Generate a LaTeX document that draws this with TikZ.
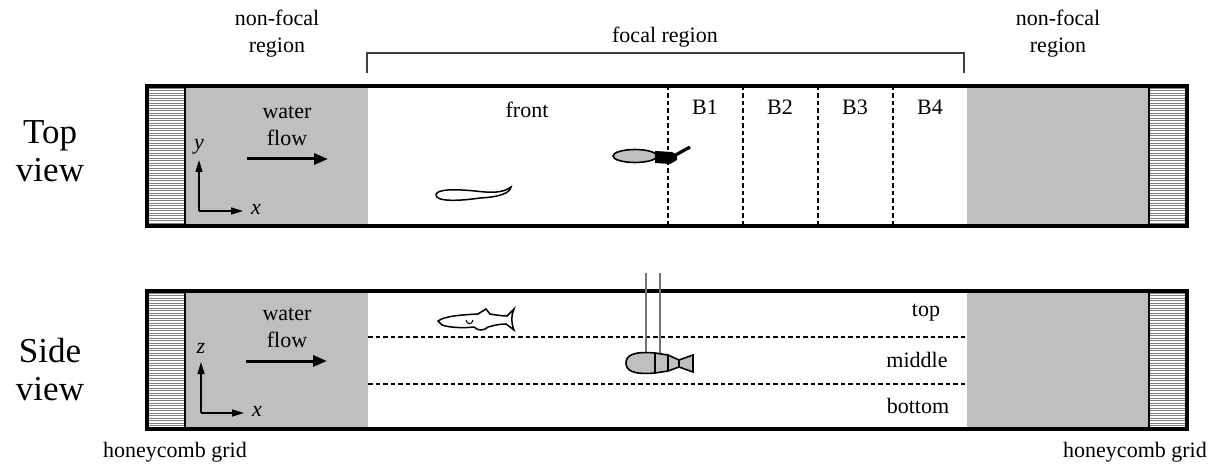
\documentclass[tikz,border=0pt]{standalone}
\usepackage{fontspec}
\setmainfont{Liberation Serif}
\usetikzlibrary{arrows.meta}
\tikzset{
  tank/.style={line width=3.8pt},
  wall/.style={line width=2.8pt},
  zone/.style={fill=black!25, draw=none},
  gridline/.style={black!50, line width=0.7pt},
  divider/.style={line width=1.1pt, dash pattern=on 4.5pt off 3pt},
  flowarrow/.style={line width=3pt, -{Triangle[length=14pt,width=11pt]}},
  axisarrow/.style={line width=1.4pt, -{Triangle[length=12pt,width=7pt]}},
  txt/.style={font=\fontsize{22}{27}\selectfont, align=center, inner sep=0pt},
  viewname/.style={font=\fontsize{35}{38}\selectfont, align=center, inner sep=0pt},
  fishline/.style={line width=1.5pt, fill=white},
  robot/.style={line width=1.6pt, fill=black!25},
  rod/.style={black!55, line width=1.1pt},
}
\begin{document}
\begin{tikzpicture}[x=1pt,y=-1pt]
\useasboundingbox (0,0) rectangle (1210,465);
%
% top view tank
\fill[zone] (185,86) rectangle (368,226);
\fill[zone] (967,86) rectangle (1149,226);
\foreach \yy in {88,90.5,...,225} {
  \draw[gridline] (147,\yy) -- (185,\yy);
  \draw[gridline] (1149,\yy) -- (1187,\yy);
}
\foreach \xx in {668,743,818,893}
  \draw[divider] (\xx,86) -- (\xx,226);
\draw[tank] (147,86) rectangle (1187,226);
\draw[wall] (185,86) -- (185,226);
\draw[wall] (1149,86) -- (1149,226);
%
% side view tank
\fill[zone] (185,291) rectangle (368,429);
\fill[zone] (967,291) rectangle (1149,429);
\foreach \yy in {293,295.5,...,428} {
  \draw[gridline] (147,\yy) -- (185,\yy);
  \draw[gridline] (1149,\yy) -- (1187,\yy);
}
\foreach \yy in {337,384}
  \draw[divider] (368,\yy) -- (967,\yy);
\draw[tank] (147,291) rectangle (1187,429);
\draw[wall] (185,291) -- (185,429);
\draw[wall] (1149,291) -- (1149,429);
%
% focal region bracket
\draw[line width=1.3pt, black!75] (367,73) -- (367,53) -- (964,53) -- (964,73);
%
% flow arrows and axes
\coordinate (flow1s) at (247,159);
\coordinate (flow1e) at (328,159);
\coordinate (flow2s) at (246,361);
\coordinate (flow2e) at (327,361);
\draw[flowarrow] (flow1s) -- (flow1e);
\draw[flowarrow] (flow2s) -- (flow2e);
\coordinate (o1) at (199,211);
\coordinate (o1y) at (199,160);
\coordinate (o1x) at (243,211);
\coordinate (o2) at (201,413);
\coordinate (o2z) at (201,362);
\coordinate (o2x) at (244,413);
\draw[axisarrow] (o1) -- (o1y);
\draw[axisarrow] (o1) -- (o1x);
\draw[axisarrow] (o2) -- (o2z);
\draw[axisarrow] (o2) -- (o2x);
%
% fish, top view
\draw[fishline] (436,195) .. controls (436,189) and (455,189) .. (475,191)
  .. controls (492,193) and (503,193) .. (511,187)
  .. controls (510,193) and (500,197) .. (480,198)
  .. controls (460,201) and (436,202) .. cycle;
%
% fish, side view
\draw[fishline] (438,321) .. controls (445,316) and (460,315) .. (478,314)
  -- (486,309) -- (490,314) .. controls (496,315) and (502,316) .. (507,316)
  -- (514,309) .. controls (511,316) and (511,322) .. (514,330)
  -- (506,324) .. controls (498,324) and (492,326) .. (488,327)
  .. controls (484,331) and (478,331) .. (474,327)
  .. controls (466,328) and (450,328) .. (442,325) -- cycle;
\draw[line width=1.1pt] (466,320) .. controls (467,325) and (472,325) .. (473,320);
%
% robot, top view
\draw[robot] (635,156) ellipse [x radius=22, y radius=6.5];
\fill (655,151) -- (672,152) -- (677,155) -- (677,160) -- (670,164) -- (655,163) -- cycle;
\draw[line width=3.2pt] (672,157) -- (690,147);
%
% robot, side view
\draw[rod] (646,273) -- (646,354);
\draw[rod] (660,273) -- (660,354);
\draw[robot] (655,353) .. controls (632,351) and (626,356) .. (626,363)
  .. controls (626,370) and (632,375) .. (655,373)
  -- (668,371) -- (679,367) -- (679,360) -- (668,355) -- cycle;
\draw[robot] (679,360) -- (693,355) -- (693,372) -- (679,367) -- cycle;
\draw[line width=1.6pt] (655,353) -- (655,373) (668,355) -- (668,371);
%
% labels
\node[viewname] (topview) at (50,151) {Top\\view};
\node[viewname] (sideview) at (50,370) {Side\\view};
\node[txt] (nfleft) at (277,34) {non-focal\\region};
\node[txt] (nfright) at (1058,34) {non-focal\\region};
\node[txt] (focal) at (665,37) {focal region};
\node[txt] (water1) at (287,126) {water\\flow};
\node[txt] (water2) at (287,328) {water\\flow};
\node[txt] (ylab) at (199,147) {\textit{y}};
\node[txt] (xlab1) at (256,209) {\textit{x}};
\node[txt] (zlab) at (201,348) {\textit{z}};
\node[txt] (xlab2) at (257,411) {\textit{x}};
\node[txt] (front) at (527,110) {front};
\node[txt] (b1) at (705,107) {B1};
\node[txt] (b2) at (780,107) {B2};
\node[txt] (b3) at (855,107) {B3};
\node[txt] (b4) at (930,107) {B4};
\node[txt] (ztop) at (926,313) {top};
\node[txt] (zmid) at (917,360) {middle};
\node[txt] (zbot) at (918,406) {bottom};
\node[txt] (hcleft) at (175,452) {honeycomb grid};
\node[txt] (hcright) at (1135,452) {honeycomb grid};
\end{tikzpicture}
\end{document}
